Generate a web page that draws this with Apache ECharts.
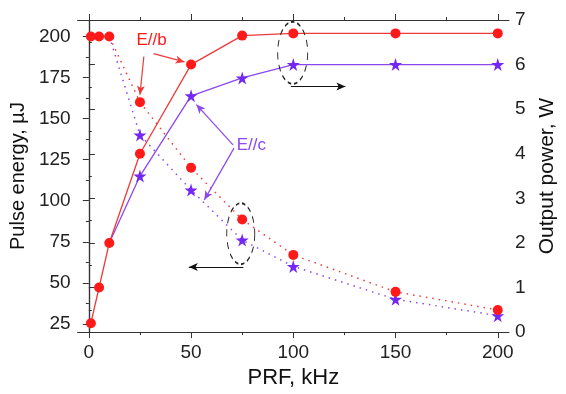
<!DOCTYPE html>
<html>
<head>
<meta charset="utf-8">
<script src="https://cdn.jsdelivr.net/npm/echarts@6/dist/echarts.min.js"></script>
<style>
  html, body { margin: 0; padding: 0; background: #fff; }
  #chart { width: 566px; height: 394px; }
</style>
</head>
<body>
<div id="chart"></div>
<script>
// E//b : red circles, E//c : violet stars
const prfB = [1, 5, 10, 25, 50, 75, 100, 150, 200]
const powerB = [0.2, 1.0, 2.0, 4.0, 6.0, 6.65, 6.7, 6.7, 6.7]
const energyB = [200, 200, 200, 160, 120, 88.5, 67, 44.5, 33.5]

// E//c starts from the shared 10 kHz point
const prfC = [10, 25, 50, 75, 100, 150, 200]
const powerC = [2.0, 3.5, 5.3, 5.7, 6.0, 6.0, 6.0]
const energyC = [200, 140, 106.5, 76, 60, 40, 30]

const xTicks = [0, 50, 100, 150, 200]
const xMinor = [25, 75, 125, 175]
const yTicks = [25, 50, 75, 100, 125, 150, 175, 200]
const yMinor = [37.5, 62.5, 87.5, 112.5, 137.5, 162.5, 187.5]

const RED = '#ff1a1a'
const RED_LINE = '#f03a3a'
const VIO = '#7426f2'
const VIO_LINE = '#8a48ee'
const AXIS = '#333'
const FONT = 'Liberation Sans, Arial, sans-serif'
const STAR = 'path://M50,0 L61,35 L98,35 L68,57 L79,91 L50,70 L21,91 L32,57 L2,35 L39,35 Z'

const pairs = (xs, ys) => xs.map((x, i) => [x, ys[i]])
// the shared first point is drawn only as a red circle
const hideFirst = (list) => list.map((p, i) => (i === 0 ? { value: p, symbol: 'none' } : p))

const chart = echarts.init(document.getElementById('chart'))

const xBase = {
  type: 'value',
  min: -5.5,
  max: 205.5,
  splitLine: { show: false },
  axisLine: { show: false },
  axisLabel: { show: false },
  axisTick: { show: false }
}

const arrow = (from, to, color) => [
  { coord: from, lineStyle: { color: color, width: 1.2, type: 'solid' } },
  { coord: to }
]

chart.setOption({
  backgroundColor: '#fff',
  animation: false,
  textStyle: { fontFamily: FONT },
  grid: { left: 74, right: 43, top: 20, bottom: 49 },
  xAxis: [
    {
      ...xBase,
      position: 'bottom',
      name: 'PRF, kHz',
      nameLocation: 'middle',
      nameGap: 30,
      nameTextStyle: { fontSize: 22, color: '#111', fontFamily: FONT },
      axisLine: { show: true, lineStyle: { color: AXIS, width: 1.2 } },
      axisTick: { show: true, customValues: xTicks, length: 6, lineStyle: { color: AXIS } },
      axisLabel: { show: true, customValues: xTicks, fontSize: 19, color: '#222', margin: 11, fontFamily: FONT }
    },
    {
      ...xBase,
      position: 'bottom',
      axisTick: { show: true, customValues: xMinor, length: 3, lineStyle: { color: AXIS } }
    },
    {
      ...xBase,
      position: 'top',
      axisLine: { show: true, lineStyle: { color: AXIS, width: 1.2 } },
      axisTick: { show: true, customValues: xTicks, length: 6, lineStyle: { color: AXIS } }
    },
    {
      ...xBase,
      position: 'top',
      axisTick: { show: true, customValues: xMinor, length: 3, lineStyle: { color: AXIS } }
    }
  ],
  yAxis: [
    {
      type: 'value',
      position: 'left',
      min: 20,
      max: 210,
      name: 'Pulse energy, µJ',
      nameLocation: 'middle',
      nameRotate: 90,
      nameGap: 46,
      nameTextStyle: { fontSize: 20, color: '#111', fontFamily: FONT },
      splitLine: { show: false },
      axisLine: { show: true, lineStyle: { color: AXIS, width: 1.2 } },
      axisTick: { show: true, customValues: yTicks, length: 6, lineStyle: { color: AXIS } },
      axisLabel: { customValues: yTicks, fontSize: 19, color: '#222', margin: 7, fontFamily: FONT }
    },
    {
      type: 'value',
      position: 'left',
      min: 20,
      max: 210,
      splitLine: { show: false },
      axisLine: { show: false },
      axisLabel: { show: false },
      axisTick: { show: true, customValues: yMinor, length: 3, lineStyle: { color: AXIS } }
    },
    {
      type: 'value',
      position: 'right',
      min: 0,
      max: 7,
      interval: 1,
      name: 'Output power, W',
      nameLocation: 'middle',
      nameRotate: 90,
      nameGap: 28,
      nameTextStyle: { fontSize: 21, color: '#111', fontFamily: FONT },
      splitLine: { show: false },
      axisLine: { show: true, lineStyle: { color: AXIS, width: 1.2 } },
      axisTick: { show: true, length: 6, lineStyle: { color: AXIS } },
      minorTick: { show: true, splitNumber: 2, length: 3, lineStyle: { color: AXIS } },
      axisLabel: { fontSize: 19, color: '#222', margin: 6, fontFamily: FONT }
    }
  ],
  series: [
    {
      name: 'E//c energy',
      type: 'line',
      xAxisIndex: 0,
      yAxisIndex: 0,
      data: hideFirst(pairs(prfC, energyC)),
      symbol: STAR,
      symbolSize: 13,
      itemStyle: { color: VIO },
      lineStyle: { color: VIO_LINE, width: 1.5, type: [1.5, 5] }
    },
    {
      name: 'E//c power',
      type: 'line',
      xAxisIndex: 0,
      yAxisIndex: 2,
      data: hideFirst(pairs(prfC, powerC)),
      symbol: STAR,
      symbolSize: 13,
      itemStyle: { color: VIO },
      lineStyle: { color: VIO_LINE, width: 1.3 }
    },
    {
      name: 'E//b energy',
      type: 'line',
      xAxisIndex: 0,
      yAxisIndex: 0,
      data: pairs(prfB, energyB),
      symbol: 'circle',
      symbolSize: 10,
      itemStyle: { color: RED },
      lineStyle: { color: RED_LINE, width: 1.5, type: [1.5, 5] },
      markLine: {
        silent: true,
        symbol: ['none', 'arrow'],
        symbolSize: [6, 9],
        label: { show: false },
        emphasis: { disabled: true },
        data: [
          arrow([26.9, 187.8], [25.0, 164.5], RED_LINE),
          arrow([31.6, 189.5], [46.8, 184.5], RED_LINE),
          arrow([70.5, 134.0], [52.6, 158.5], VIO_LINE),
          arrow([71.0, 132.0], [56.5, 100.5], VIO_LINE),
          arrow([98.8, 169.5], [125.5, 169.5], '#111'),
          arrow([75.6, 59.6], [48.9, 59.6], '#111')
        ]
      },
      markPoint: {
        silent: true,
        label: { show: false },
        data: [
          {
            coord: [30.7, 197.7], symbol: 'rect', symbolSize: 1,
            itemStyle: { color: 'rgba(0,0,0,0)' },
            label: { show: true, position: 'inside', formatter: 'E//b', color: RED, fontSize: 17, fontFamily: FONT }
          },
          {
            coord: [79.5, 134.0], symbol: 'rect', symbolSize: 1,
            itemStyle: { color: 'rgba(0,0,0,0)' },
            label: { show: true, position: 'inside', formatter: 'E//c', color: VIO_LINE, fontSize: 17, fontFamily: FONT }
          },
          {
            coord: [99.7, 190.0], symbol: 'circle', symbolSize: [30, 62],
            itemStyle: { color: 'rgba(0,0,0,0)', borderColor: '#222', borderWidth: 1.3, borderType: [5, 4] }
          },
          {
            coord: [74.3, 79.9], symbol: 'circle', symbolSize: [28, 61],
            itemStyle: { color: 'rgba(0,0,0,0)', borderColor: '#222', borderWidth: 1.3, borderType: [5, 4] }
          }
        ]
      }
    },
    {
      name: 'E//b power',
      type: 'line',
      xAxisIndex: 0,
      yAxisIndex: 2,
      data: pairs(prfB, powerB),
      symbol: 'circle',
      symbolSize: 10,
      itemStyle: { color: RED },
      lineStyle: { color: RED_LINE, width: 1.3 }
    }
  ]
})
</script>
</body>
</html>
